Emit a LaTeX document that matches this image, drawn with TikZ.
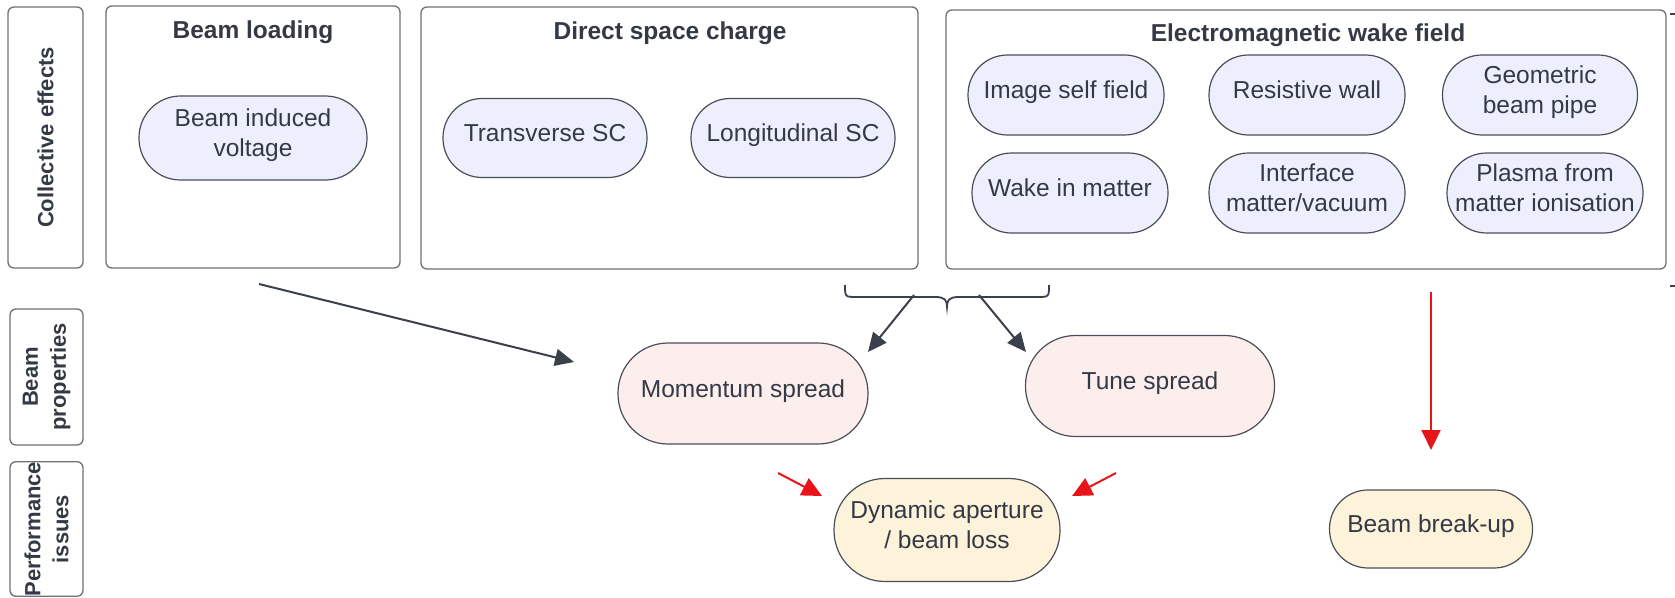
\documentclass[tikz,border=0pt]{standalone}
\usepackage{fontspec}
\setmainfont{Liberation Sans}
\usetikzlibrary{arrows.meta}
\definecolor{txt}{HTML}{343A45}
\definecolor{boxc}{HTML}{707070}
\definecolor{pillc}{HTML}{4A4F57}
\definecolor{lav}{HTML}{EEEFFC}
\definecolor{pinkf}{HTML}{FDEEEE}
\definecolor{yelf}{HTML}{FDF2DA}
\definecolor{arrc}{HTML}{3A414A}
\definecolor{redc}{HTML}{E8141A}
\begin{document}
\begin{tikzpicture}[x=1pt,y=-1pt,
  sidebox/.style n args={2}{draw=boxc, line width=1.3pt, rounded corners=6pt, rotate=90,
     minimum width=#1pt, minimum height=#2pt, inner sep=0pt, align=center, text=txt,
     font=\fontsize{22}{28}\selectfont\bfseries},
  groupbox/.style n args={2}{draw=boxc, line width=1.3pt, rounded corners=6pt,
     minimum width=#1pt, minimum height=#2pt, inner sep=0pt},
  grouptitle/.style={text=txt, font=\fontsize{24.5}{30}\selectfont\bfseries, inner sep=0pt},
  pill/.style n args={3}{draw=pillc, line width=1.2pt, rounded corners=#3pt,
     minimum width=#1pt, minimum height=#2pt, inner sep=0pt, align=center, text=txt,
     text depth=10pt, font=\fontsize{24.5}{30}\selectfont},
  darr/.style={draw=arrc, line width=2pt, -{Triangle[length=19pt,width=17pt]}},
  rarr/.style={draw=redc, line width=2pt, -{Triangle[length=20pt,width=19pt]}},
  bracec/.style={draw=arrc, line width=1.8pt},
  tick/.style={draw=arrc, line width=1.2pt}
]
\useasboundingbox (0,0) rectangle (1675,597);

% side labels
\node[sidebox={261}{75}] (ce) at (45.5,137.5) {Collective effects};
\node[sidebox={136}{73}] (bp) at (46.5,377) {Beam\\properties};
\node[sidebox={134}{73}] (pi) at (46.5,529) {Performance\\issues};

% group boxes
\node[groupbox={294}{262}] (bl) at (253,137) {};
\node[grouptitle] (blt) at (253,32) {Beam loading};
\node[groupbox={497}{262}] (dsc) at (669.5,138) {};
\node[grouptitle] (dsct) at (670,33) {Direct space charge};
\node[groupbox={720}{259}] (em) at (1306,139.5) {};
\node[grouptitle] (emt) at (1308,35) {Electromagnetic wake field};

% pills in groups
\node[pill={228}{84}{41.5}, fill=lav] (biv) at (253,138) {Beam induced\\voltage};
\node[pill={204}{79}{39}, fill=lav] (tsc) at (545,138) {Transverse SC};
\node[pill={204}{79}{39}, fill=lav] (lsc) at (793,138) {Longitudinal SC};
\node[pill={196}{80}{39.5}, fill=lav] (isf) at (1066,95) {Image self field};
\node[pill={196}{80}{39.5}, fill=lav] (rw) at (1307,95) {Resistive wall};
\node[pill={195}{80}{39.5}, fill=lav] (gbp) at (1540,95) {Geometric\\beam pipe};
\node[pill={196}{80}{39.5}, fill=lav] (wim) at (1070,193) {Wake in matter};
\node[pill={196}{80}{39.5}, fill=lav] (imv) at (1307,193) {Interface\\matter/vacuum};
\node[pill={196}{80}{39.5}, fill=lav] (pfm) at (1545,193) {Plasma from\\matter ionisation};

% beam properties
\node[pill={250}{101}{50}, fill=pinkf] (ms) at (743,393.5) {Momentum spread};
\node[pill={249}{101}{50}, fill=pinkf] (ts) at (1150,386) {Tune spread};

% performance issues
\node[pill={226}{103}{51}, fill=yelf] (da) at (947,530) {Dynamic aperture\\/ beam loss};
\node[pill={203}{78}{38.5}, fill=yelf] (bbu) at (1431,529) {Beam break-up};

% brace
\coordinate (brL) at (845,285);
\coordinate (brR) at (1049,285);
\coordinate (brT) at (947,307);
\draw[bracec] (brL) .. controls (845,297) .. (857,297) -- (935,297)
  .. controls (945,297) and (947,300) .. (brT)
  .. controls (947,300) and (949,297) .. (959,297) -- (1037,297)
  .. controls (1049,297) .. (brR);

% small marks at the right edge
\draw[tick] (1670,14) -- (1675,14);
\draw[tick] (1670,286) -- (1675,286);

% connector end points
\coordinate (blA) at (259,284);
\coordinate (blB) at (574,362);
\coordinate (bA1) at (914,295);
\coordinate (bB1) at (868,352);
\coordinate (bA2) at (979,295);
\coordinate (bB2) at (1026,352);
\coordinate (emA) at (1431,292);
\coordinate (emB) at (1431,450);
\coordinate (rA1) at (778,473);
\coordinate (rB1) at (822,496);
\coordinate (rA2) at (1116,473);
\coordinate (rB2) at (1072,496);

\draw[darr] (blA) -- (blB);
\draw[darr] (bA1) -- (bB1);
\draw[darr] (bA2) -- (bB2);
\draw[rarr] (emA) -- (emB);
\draw[rarr] (rA1) -- (rB1);
\draw[rarr] (rA2) -- (rB2);
\end{tikzpicture}
\end{document}
